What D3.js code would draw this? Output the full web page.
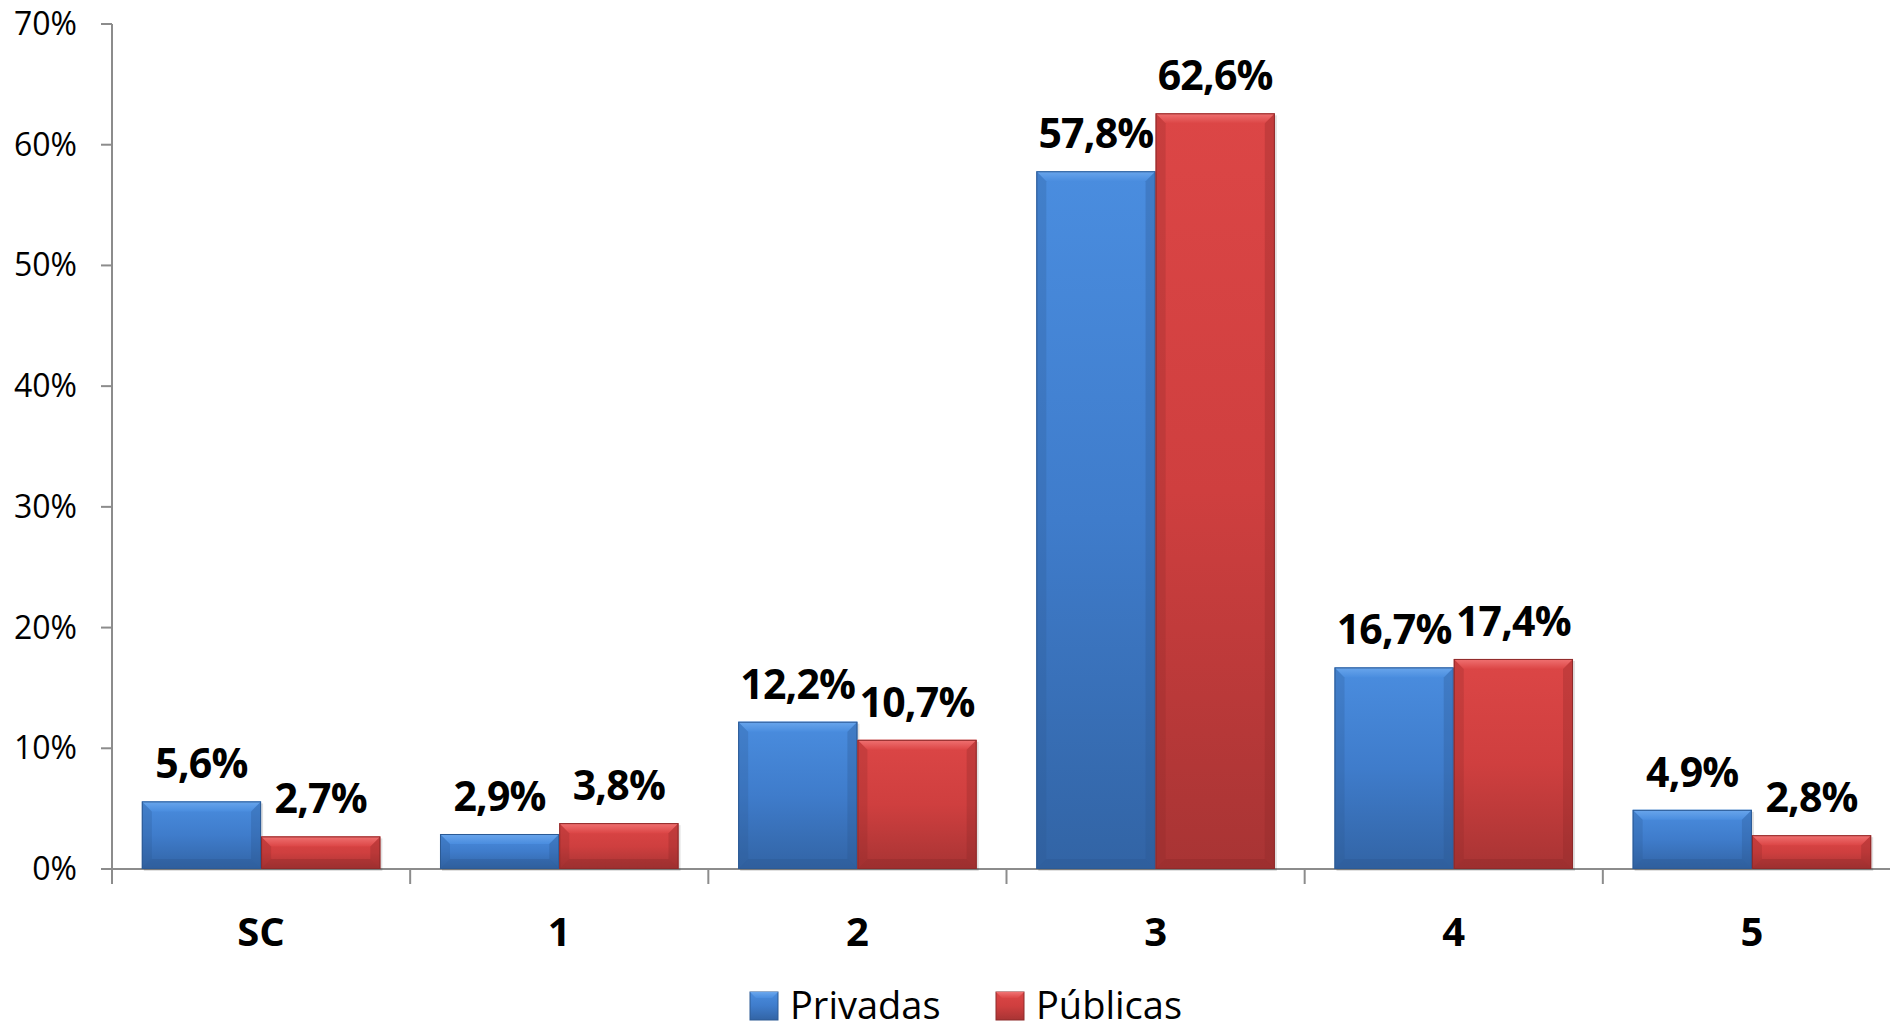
<!DOCTYPE html>
<html><head><meta charset="utf-8">
<script src="https://cdn.jsdelivr.net/npm/d3@7"></script>
<style>html,body{margin:0;padding:0;background:#fff;}svg{display:block;font-family:"Open Sans",sans-serif;}</style>
</head><body>
<svg id="c" width="1890" height="1030"></svg>
<script>
const categories = ["SC", "1", "2", "3", "4", "5"];
const seriesNames = ["Privadas", "Públicas"];
const privadas = [5.6, 2.9, 12.2, 57.8, 16.7, 4.9];
const publicas = [2.7, 3.8, 10.7, 62.6, 17.4, 2.8];
const yTicks = [0, 10, 20, 30, 40, 50, 60, 70];

const svg = d3.select("#c");
const x = d3.scaleBand().domain(categories).range([112, 1901]).paddingInner(0.2).paddingOuter(0.1);
const xs = d3.scaleBand().domain(seriesNames).range([0, x.bandwidth()]);
const y = d3.scaleLinear().domain([0, 70]).range([869, 24]);

const pal = {
  "Privadas": {top:"#4a8ddf", mid:"#3f7ccb", bot:"#3264a5", hi:"#6aa6ec", edge:"#2c5a94", dark:"#2b5690"},
  "Públicas": {top:"#dc4646", mid:"#cf3f3f", bot:"#a83434", hi:"#f07272", edge:"#8e2a2a", dark:"#8a2727"}
};
const defs = svg.append("defs");
seriesNames.forEach((s,i)=>{
  const g = defs.append("linearGradient").attr("id","g"+i).attr("x1",0).attr("y1",0).attr("x2",0).attr("y2",1);
  g.append("stop").attr("offset","0%").attr("stop-color",pal[s].top);
  g.append("stop").attr("offset","50%").attr("stop-color",pal[s].mid);
  g.append("stop").attr("offset","100%").attr("stop-color",pal[s].bot);
  const h = defs.append("linearGradient").attr("id","h"+i).attr("x1",0).attr("y1",0).attr("x2",0).attr("y2",1);
  h.append("stop").attr("offset","0%").attr("stop-color",pal[s].hi);
  h.append("stop").attr("offset","100%").attr("stop-color",pal[s].top);
});

// axes
const axisColor = "#8c8c8c";
svg.append("line").attr("x1",112).attr("x2",112).attr("y1",y(70)).attr("y2",y(0)+15).attr("stroke",axisColor).attr("stroke-width",2);
svg.append("line").attr("x1",101).attr("x2",1890).attr("y1",y(0)).attr("y2",y(0)).attr("stroke",axisColor).attr("stroke-width",2);
yTicks.forEach(t=>{
  svg.append("line").attr("x1",101).attr("x2",112).attr("y1",y(t)).attr("y2",y(t)).attr("stroke",axisColor).attr("stroke-width",2);
  svg.append("text").attr("x",77).attr("y",y(t)+11).attr("text-anchor","end").attr("font-size",32).attr("fill","#000").text(t+"%");
});
categories.forEach(c=>{
  const bx = x(c) - x.step()*x.paddingInner()/2 + x.step();
  svg.append("line").attr("x1",bx).attr("x2",bx).attr("y1",y(0)).attr("y2",y(0)+15).attr("stroke",axisColor).attr("stroke-width",2);
  svg.append("text").attr("x",x(c)+x.bandwidth()/2).attr("y",946).attr("text-anchor","middle")
    .attr("font-size",40).attr("font-weight","bold").attr("fill","#000").text(c);
});

// bars
const fmt = v => v.toFixed(1).replace(".", ",") + "%";
[privadas, publicas].forEach((vals, si)=>{
  const s = seriesNames[si];
  vals.forEach((v, ci)=>{
    const c = categories[ci];
    const x0 = x(c) + xs(s), w = xs.bandwidth();
    const y0 = y(v), h = y(0) - y(v);
    const g = svg.append("g");
    g.append("rect").attr("x",x0+2).attr("y",y0+2).attr("width",w).attr("height",h).attr("fill","rgba(0,0,0,0.12)");
    g.append("rect").attr("x",x0).attr("y",y0).attr("width",w).attr("height",h).attr("fill",`url(#g${si})`);
    const b = Math.min(10, h/2);
    g.append("polygon").attr("points",`${x0},${y0} ${x0+w},${y0} ${x0+w-b},${y0+b} ${x0+b},${y0+b}`).attr("fill",`url(#h${si})`);
    g.append("polygon").attr("points",`${x0},${y0} ${x0+b},${y0+b} ${x0+b},${y0+h-b} ${x0},${y0+h}`).attr("fill",pal[s].dark).attr("opacity",0.25);
    g.append("polygon").attr("points",`${x0+w},${y0} ${x0+w-b},${y0+b} ${x0+w-b},${y0+h-b} ${x0+w},${y0+h}`).attr("fill",pal[s].dark).attr("opacity",0.3);
    g.append("polygon").attr("points",`${x0},${y0+h} ${x0+b},${y0+h-b} ${x0+w-b},${y0+h-b} ${x0+w},${y0+h}`).attr("fill",pal[s].dark).attr("opacity",0.35);
    g.append("rect").attr("x",x0+0.5).attr("y",y0+0.5).attr("width",w-1).attr("height",h-1).attr("fill","none").attr("stroke",pal[s].edge).attr("stroke-width",1);
    svg.append("text").attr("x",x0+w/2).attr("y",y0-23).attr("text-anchor","middle")
      .attr("font-size",41).attr("font-weight","bold").attr("letter-spacing",-0.8).attr("fill","#000").text(fmt(v));
  });
});

// legend
const legendX = [750, 996];
seriesNames.forEach((s, i)=>{
  const lx = legendX[i];
  svg.append("rect").attr("x",lx).attr("y",992).attr("width",28).attr("height",28).attr("fill",`url(#g${i})`).attr("stroke",pal[s].edge).attr("stroke-width",1);
  svg.append("polygon").attr("points",`${lx},992 ${lx+28},992 ${lx+22},998 ${lx+6},998`).attr("fill",`url(#h${i})`);
  svg.append("text").attr("x",lx+40).attr("y",1019).attr("font-size",38).attr("fill","#000").text(s);
});
</script>
</body></html>
